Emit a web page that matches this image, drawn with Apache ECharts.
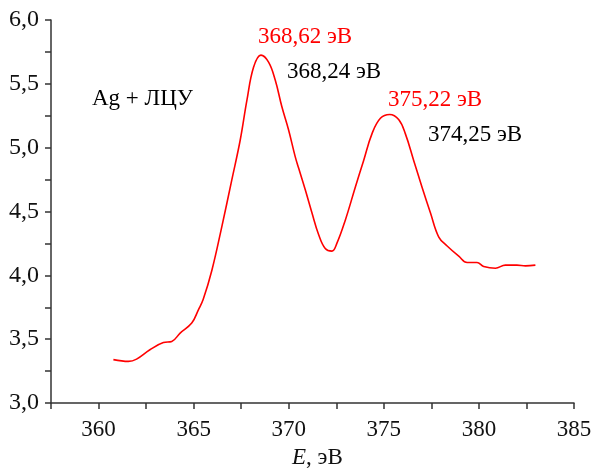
<!DOCTYPE html>
<html><head><meta charset="utf-8">
<script src="https://cdn.jsdelivr.net/npm/echarts@6/dist/echarts.min.js"></script>
<style>html,body{margin:0;padding:0;background:#fff}#c{width:596px;height:473px}</style>
</head><body><div id="c"></div>
<script>
const energy = [360.78,361.57,362.0,362.7,363.41,363.85,364.29,364.9,365.25,365.5,365.96,366.48,367.01,367.45,367.8,368.15,368.54,368.94,369.29,369.64,369.99,370.34,370.52,370.87,371.22,371.57,371.92,372.27,372.53,372.97,373.5,373.94,374.38,374.82,375.31,375.78,376.13,376.57,377.01,377.45,377.89,378.33,378.94,379.38,379.9,380.25,380.87,381.39,382.0,382.45,382.97];
const intensity = [3.34,3.326,3.344,3.417,3.474,3.482,3.548,3.626,3.73,3.81,4.04,4.38,4.75,5.06,5.37,5.63,5.725,5.67,5.53,5.32,5.14,4.93,4.84,4.67,4.49,4.32,4.21,4.19,4.25,4.43,4.69,4.90,5.11,5.23,5.26,5.22,5.11,4.90,4.69,4.49,4.30,4.23,4.15,4.10,4.10,4.07,4.056,4.08,4.08,4.074,4.08];
const annotations = [
  {text:'368,62 эВ', color:'#ff0000', x:258, y:25},
  {text:'368,24 эВ', color:'#000000', x:287, y:60},
  {text:'Ag + ЛЦУ', color:'#000000', x:92, y:87},
  {text:'375,22 эВ', color:'#ff0000', x:388, y:88},
  {text:'374,25 эВ', color:'#000000', x:428, y:123}
];
const FONT = 'Liberation Serif';
const chart = echarts.init(document.getElementById('c'));
chart.setOption({
  animation:false,
  textStyle:{fontFamily:FONT},
  grid:{left:51,right:22,top:20,bottom:70},
  xAxis:{type:'value',min:357.5,max:385,interval:2.5,
    axisLine:{lineStyle:{color:'#333',width:1.5}},
    axisTick:{inside:false,length:6,lineStyle:{color:'#333',width:1.5}},
    splitLine:{show:false},
    axisLabel:{color:'#111',fontFamily:FONT,fontSize:23,margin:15,
      formatter:v=> (Math.abs(v%5)<1e-9 ? String(v) : '')}
  },
  yAxis:{type:'value',min:3,max:6,interval:0.25,
    axisLine:{show:true,lineStyle:{color:'#333',width:1.5}},
    axisTick:{show:true,inside:false,length:6,lineStyle:{color:'#333',width:1.5}},
    splitLine:{show:false},
    axisLabel:{color:'#111',fontFamily:FONT,fontSize:24,margin:12,
      formatter:v=> (Math.abs((v*2)%1)<1e-9 ? v.toFixed(1).replace('.',',') : '')}
  },
  series:[{type:'line',data:energy.map((e,i)=>[e,intensity[i]]),smooth:0.4,showSymbol:false,
    lineStyle:{color:'#ff0000',width:1.6}}],
  graphic: annotations.map(a=>({type:'text',left:a.x,top:a.y,
      style:{text:a.text,fill:a.color,fontFamily:FONT,fontSize:23}})).concat([
    {type:'text',left:292,top:446,style:{text:'{i|E}, эВ',fontFamily:FONT,fontSize:23,fill:'#111',
      rich:{i:{fontStyle:'italic',fontFamily:FONT,fontSize:23,fill:'#111'}}}}
  ])
});
</script></body></html>
